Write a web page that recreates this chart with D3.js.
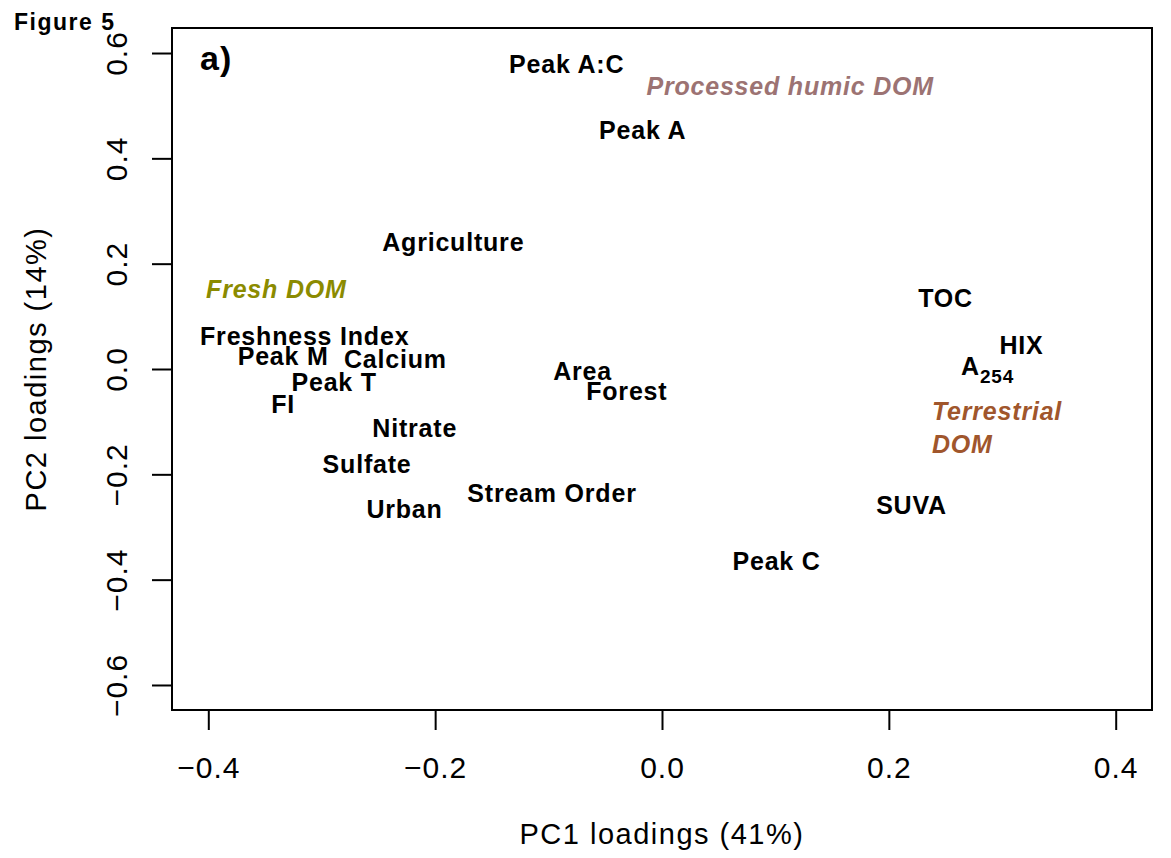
<!DOCTYPE html>
<html>
<head>
<meta charset="utf-8">
<script src="https://cdn.jsdelivr.net/npm/d3@7"></script>
<style>
  body { margin: 0; background: #fff; }
  text { font-family: "Liberation Sans", Arial, Helvetica, sans-serif; }
</style>
</head>
<body>
<svg id="chart" width="1171" height="858"></svg>
<script>
// PCA loadings
const variables = ["Peak A:C", "Peak A", "Agriculture", "TOC", "Freshness Index", "HIX",
  "Peak M", "Calcium", "Area", "Peak T", "Forest", "FI", "Nitrate", "Sulfate",
  "Stream Order", "SUVA", "Urban", "Peak C"];
const pc1 = [-0.084, -0.017, -0.184, 0.250, -0.315, 0.317,
  -0.334, -0.235, -0.070, -0.289, -0.031, -0.334, -0.218, -0.260,
  -0.097, 0.220, -0.227, 0.101];
const pc2 = [0.579, 0.454, 0.241, 0.135, 0.063, 0.046,
  0.025, 0.019, -0.004, -0.025, -0.042, -0.066, -0.112, -0.180,
  -0.236, -0.258, -0.266, -0.365];

// A254 is drawn separately because of its subscript
const a254 = { x: 0.287, y: 0.006 };

const groupNames = ["Processed humic DOM", "Fresh DOM", "Terrestrial"];
const groupX = [0.113, -0.340, 0.238];
const groupY = [0.537, 0.152, -0.111];
const groupColors = ["#9c7373", "#8b8b00", "#a0562c"];

const xTicks = [-0.4, -0.2, 0.0, 0.2, 0.4];
const yTicks = [-0.6, -0.4, -0.2, 0.0, 0.2, 0.4, 0.6];

const margin = { top: 28, right: 19, bottom: 148, left: 172 };
const width = 1171, height = 858;

const svg = d3.select("#chart");

const x = d3.scaleLinear()
  .domain([-0.432, 0.432])
  .range([margin.left, width - margin.right]);
const y = d3.scaleLinear()
  .domain([-0.6475, 0.6475])
  .range([height - margin.bottom, margin.top]);

const fmt = d => d3.format(".1f")(d).replace("-", "\u2212");

// axes
const xAxis = svg.append("g")
  .attr("transform", `translate(0,${height - margin.bottom})`)
  .call(d3.axisBottom(x).tickValues(xTicks).tickSize(20).tickSizeOuter(0).tickPadding(27).tickFormat(fmt));
xAxis.select(".domain").remove();
xAxis.selectAll("line").attr("stroke", "#000").attr("stroke-width", 2);
xAxis.selectAll("text").attr("font-size", 30).attr("fill", "#000")
  .attr("letter-spacing", 1)
  .attr("font-family", "Liberation Sans, Arial, sans-serif");

const yAxis = svg.append("g")
  .attr("transform", `translate(${margin.left},0)`)
  .call(d3.axisLeft(y).tickValues(yTicks).tickSize(20).tickSizeOuter(0).tickFormat(fmt));
yAxis.select(".domain").remove();
yAxis.selectAll("line").attr("stroke", "#000").attr("stroke-width", 2);
yAxis.selectAll("text")
  .attr("font-size", 30).attr("fill", "#000")
  .attr("letter-spacing", 1)
  .attr("font-family", "Liberation Sans, Arial, sans-serif")
  .attr("text-anchor", "middle")
  .attr("dy", 0)
  .attr("x", 0)
  .attr("transform", "translate(-45,0) rotate(-90)");

// frame
svg.append("rect")
  .attr("x", x.range()[0]).attr("y", y.range()[1])
  .attr("width", x.range()[1] - x.range()[0])
  .attr("height", y.range()[0] - y.range()[1])
  .attr("fill", "none").attr("stroke", "#000").attr("stroke-width", 2);

// axis titles
svg.append("text")
  .attr("x", x(0)).attr("y", 844)
  .attr("text-anchor", "middle").attr("font-size", 29).attr("letter-spacing", 1.5)
  .text("PC1 loadings (41%)");
svg.append("text")
  .attr("transform", `translate(46,${y(0)}) rotate(-90)`)
  .attr("text-anchor", "middle").attr("font-size", 29).attr("letter-spacing", 1.5)
  .text("PC2 loadings (14%)");

// variable labels
svg.append("g").selectAll("text")
  .data(variables)
  .join("text")
  .attr("x", (d, i) => x(pc1[i]))
  .attr("y", (d, i) => y(pc2[i]))
  .attr("dy", "0.36em")
  .attr("text-anchor", "middle")
  .attr("font-size", 25).attr("font-weight", "bold").attr("letter-spacing", 0.8)
  .text(d => d);

const aText = svg.append("text")
  .attr("x", x(a254.x)).attr("y", y(a254.y))
  .attr("dy", "0.36em")
  .attr("text-anchor", "middle")
  .attr("font-size", 25).attr("font-weight", "bold").attr("letter-spacing", 0.8);
aText.append("tspan").text("A");
aText.append("tspan").attr("font-size", 19).attr("dy", "0.45em").text("254");

// group annotations
groupNames.forEach((name, i) => {
  const t = svg.append("text")
    .attr("x", x(groupX[i])).attr("y", y(groupY[i]))
    .attr("font-size", 25).attr("font-weight", "bold").attr("font-style", "italic")
    .attr("letter-spacing", 0.8)
    .attr("fill", groupColors[i])
    .attr("text-anchor", i === 2 ? "start" : "middle");
  if (name === "Terrestrial") {
    t.append("tspan").attr("x", x(groupX[i])).attr("dy", "-0.3em").text("Terrestrial");
    t.append("tspan").attr("x", x(groupX[i])).attr("dy", "1.32em").text("DOM");
  } else {
    t.attr("dy", "0.36em").text(name);
  }
});

svg.append("text")
  .attr("x", 200).attr("y", 70)
  .attr("font-size", 34).attr("font-weight", "bold").attr("letter-spacing", 1)
  .text("a)");
svg.append("text")
  .attr("x", 14).attr("y", 30)
  .attr("font-size", 23).attr("font-weight", "bold").attr("letter-spacing", 1.5)
  .text("Figure 5");
</script>
</body>
</html>
